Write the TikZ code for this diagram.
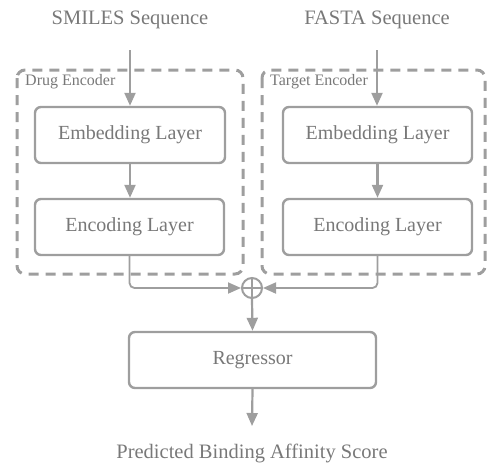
\documentclass[tikz,border=0pt]{standalone}
\usepackage{fontspec}
\setmainfont{Liberation Serif}
\usetikzlibrary{arrows.meta}
\definecolor{ln}{HTML}{9E9E9E}
\definecolor{tx}{HTML}{787878}
\tikzset{
  layerbox/.style={draw=ln, line width=2.4pt, rounded corners=6pt, text=tx, font=\fontsize{20}{24}\selectfont, inner sep=0pt},
  encbox/.style={draw=ln, line width=3pt, dash pattern=on 10pt off 7pt, rounded corners=8pt},
  flow/.style={draw=ln, line width=2.2pt, -{Triangle[length=13pt,width=11pt]}},
  thin/.style={draw=ln, line width=1.8pt, rounded corners=5pt},
  lbl/.style={text=tx, font=\fontsize{20.5}{24}\selectfont, inner sep=0pt},
  small/.style={text=tx, font=\fontsize{16}{18}\selectfont, inner sep=0pt, anchor=west}
}
\begin{document}
\begin{tikzpicture}[x=1pt,y=-1pt]
\useasboundingbox (0,0) rectangle (487,463);
% encoder frames
\draw[encbox] (17,70) rectangle (243,274);
\draw[encbox] (262,70) rectangle (485,274);
\node[small] (dlab) at (25,82) {Drug Encoder};
\node[small] (tlab) at (270,82) {Target Encoder};
% inputs
\node[lbl] (smiles) at (130,20) {SMILES Sequence};
\node[lbl] (fasta) at (377,20) {FASTA Sequence};
% layers
\node[layerbox, minimum width=190pt, minimum height=56pt] (demb) at (130,135) {Embedding Layer};
\node[layerbox, minimum width=189pt, minimum height=56pt] (temb) at (377.5,135) {Embedding Layer};
\node[layerbox, minimum width=189pt, minimum height=56pt] (denc) at (129.5,227) {Encoding Layer};
\node[layerbox, minimum width=189pt, minimum height=56pt] (tenc) at (377.5,227) {Encoding Layer};
% plus
\node[draw=ln, line width=2pt, circle, minimum size=20pt, inner sep=0pt] (plus) at (252,288) {};
\draw[ln, line width=2pt] (plus.north) -- (plus.south) (plus.west) -- (plus.east);
% regressor
\node[layerbox, minimum width=247pt, minimum height=56pt] (reg) at (252.5,360) {Regressor};
\node[lbl] (out) at (252,453) {Predicted Binding Affinity Score};
% arrows
\coordinate (s0) at (130,50);
\coordinate (f0) at (377,50);
\draw[flow] (s0) -- (demb.north);
\draw[flow] (f0) -- (temb.north -| f0);
\draw[flow] (demb.south) -- (denc.north -| demb.south);
\draw[flow] (temb.south) -- (tenc.north -| temb.south);
\draw[thin, -{Triangle[length=13pt,width=11pt]}] (denc.south) |- (plus.west);
\draw[thin, -{Triangle[length=13pt,width=11pt]}] (tenc.south) |- (plus.east);
\coordinate (o0) at (252,426);
\draw[flow] (plus.south) -- (reg.north);
\draw[flow] (reg.south) -- (o0);
\end{tikzpicture}
\end{document}
